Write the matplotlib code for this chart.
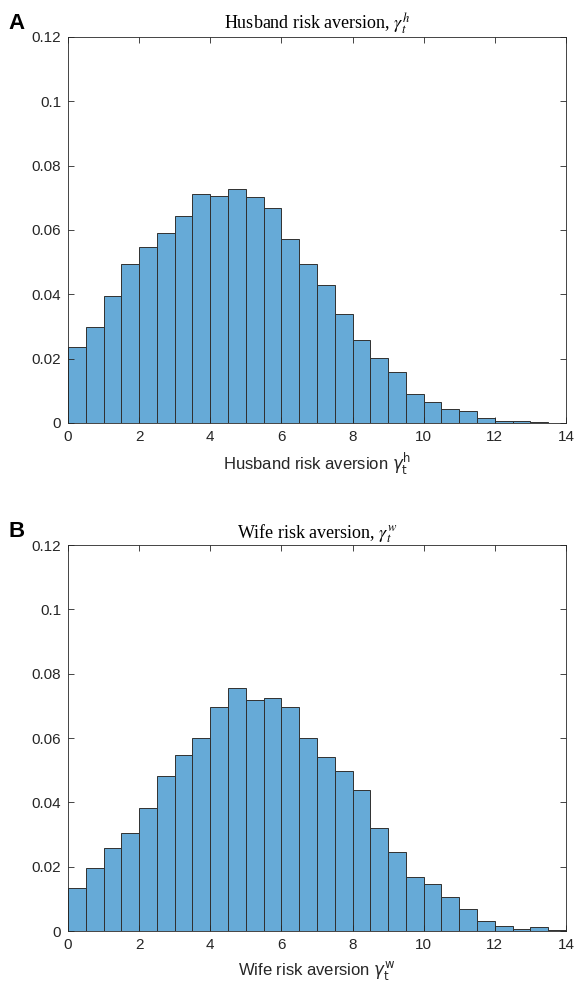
import numpy as np
import matplotlib
matplotlib.use("Agg")
import matplotlib.pyplot as plt

# bin edges: width 0.5 starting at 0
bin_width = 0.5

husband_probs = [0.0236, 0.0298, 0.0395, 0.0493, 0.0547, 0.0591, 0.0642, 0.0712,
                 0.0705, 0.0727, 0.0701, 0.0669, 0.0572, 0.0493, 0.0428, 0.0339,
                 0.0258, 0.0203, 0.0158, 0.0090, 0.0064, 0.0044, 0.0038, 0.0016,
                 0.0007, 0.0006, 0.0002]

wife_probs = [0.0135, 0.0197, 0.0259, 0.0304, 0.0384, 0.0481, 0.0548, 0.0599,
              0.0695, 0.0757, 0.0717, 0.0723, 0.0697, 0.0600, 0.0542, 0.0499,
              0.0437, 0.0320, 0.0247, 0.0169, 0.0145, 0.0107, 0.0070, 0.0032,
              0.0016, 0.0007, 0.0014, 0.0002]

x_ticks = [0, 2, 4, 6, 8, 10, 12, 14]
y_ticks = [0, 0.02, 0.04, 0.06, 0.08, 0.1, 0.12]
y_tick_labels = ["0", "0.02", "0.04", "0.06", "0.08", "0.1", "0.12"]

panels = [
    ("A", husband_probs, r"Husband risk aversion, $\gamma_t^h$",
     r"Husband risk aversion $\gamma_{\rm t}^{\rm h}$"),
    ("B", wife_probs, r"Wife risk aversion, $\gamma_t^w$",
     r"Wife risk aversion $\gamma_{\rm t}^{\rm w}$"),
]

# matlab default blue with face alpha 0.6 on white
face = (0.4, 0.4 + 0.6 * 0.447, 0.4 + 0.6 * 0.741)
sans = "Liberation Sans"

fig = plt.figure(figsize=(5.79, 9.91), dpi=100)
axes_rects = [[0.1174, 0.5732, 0.860, 0.3895],
              [0.1174, 0.0605, 0.860, 0.3895]]

for rect, (letter, probs, title, xlabel) in zip(axes_rects, panels):
    ax = fig.add_axes(rect)
    edges = np.arange(len(probs)) * bin_width
    ax.bar(edges, probs, width=bin_width, align="edge", color=face,
           edgecolor="#303030", linewidth=0.7)
    ax.set_xlim(0, 14)
    ax.set_ylim(0, 0.12)
    ax.set_xticks(x_ticks)
    ax.set_xticklabels([str(t) for t in x_ticks], fontsize=11, family=sans, color="#262626")
    ax.set_yticks(y_ticks)
    ax.set_yticklabels(y_tick_labels, fontsize=11, family=sans, color="#262626")
    ax.tick_params(direction="in", top=True, right=True, length=4, width=0.6,
                   color="#262626", pad=5)
    for sp in ax.spines.values():
        sp.set_linewidth(0.6)
        sp.set_color("#262626")
    ax.set_title(title, fontsize=13, family="Liberation Serif",
                 math_fontfamily="stix", pad=5)
    ax.set_xlabel(xlabel, fontsize=12, family=sans, color="#262626",
                  math_fontfamily="dejavusans", labelpad=5)
    ax.text(-0.12, 1.035, letter, transform=ax.transAxes, fontsize=16,
            fontweight="bold", family=sans, ha="left", va="center")

fig.savefig("out.png", dpi=100)
